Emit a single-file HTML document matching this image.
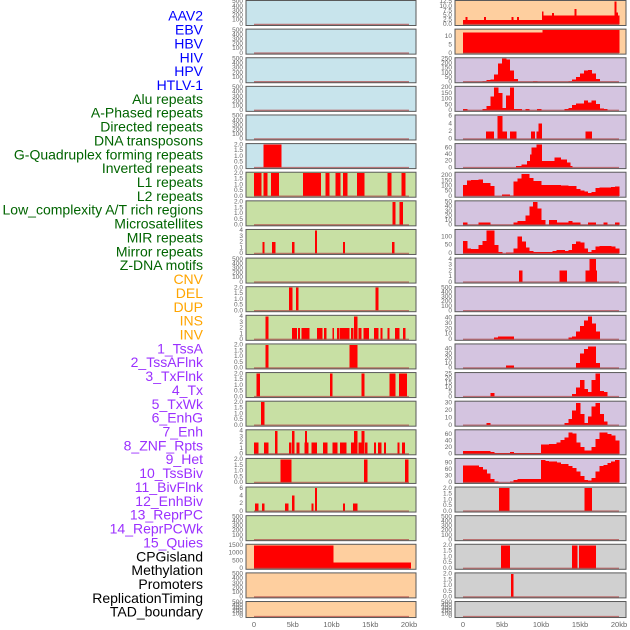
<!DOCTYPE html>
<html><head><meta charset="utf-8">
<style>
html,body{margin:0;padding:0;background:#fff;width:630px;height:630px;overflow:hidden}
svg{display:block}
.lbl{font-family:"Liberation Sans",sans-serif;font-size:14px}
.tk{font-family:"Liberation Sans",sans-serif;font-size:6.5px;fill:#666}
.xt{font-family:"Liberation Sans",sans-serif;font-size:7.5px;fill:#666}
</style></head>
<body>
<svg id="chart" width="630" height="630" viewBox="0 0 630 630"></svg>
<script>
// ---- labels ----
const trackLabels = ["AAV2","EBV","HBV","HIV","HPV","HTLV-1","Alu repeats","A-Phased repeats","Directed repeats","DNA transposons","G-Quadruplex forming repeats","Inverted repeats","L1 repeats","L2 repeats","Low_complexity A/T rich regions","Microsatellites","MIR repeats","Mirror repeats","Z-DNA motifs","CNV","DEL","DUP","INS","INV","1_TssA","2_TssAFlnk","3_TxFlnk","4_Tx","5_TxWk","6_EnhG","7_Enh","8_ZNF_Rpts","9_Het","10_TssBiv","11_BivFlnk","12_EnhBiv","13_ReprPC","14_ReprPCWk","15_Quies","CPGisland","Methylation","Promoters","ReplicationTiming","TAD_boundary"];
const labelColors = ["#0000ff","#0000ff","#0000ff","#0000ff","#0000ff","#0000ff","#006400","#006400","#006400","#006400","#006400","#006400","#006400","#006400","#006400","#006400","#006400","#006400","#006400","#ffa500","#ffa500","#ffa500","#ffa500","#ffa500","#9b30ff","#9b30ff","#9b30ff","#9b30ff","#9b30ff","#9b30ff","#9b30ff","#9b30ff","#9b30ff","#9b30ff","#9b30ff","#9b30ff","#9b30ff","#9b30ff","#9b30ff","#000","#000","#000","#000","#000"];

// ---- tick sets ----
const T_E = [0,100,200,300,400,500];
const T_2 = [0,0.5,1,1.5,2];
const T_4 = [0,1,2,3,4];
const xTickKb = [0,5,10,15,20];
const xTickLabels = ["0","5kb","10kb","15kb","20kb"];

// ---- middle column data: segments [startKb,endKb,value] ----
const midDNA = [[1.2,3.5,2]];
const midL1 = [[0,0.9,2],[1.2,1.7,2],[2.2,3.2,2],[6.3,8.6,2],[9.2,9.7,2],[10.5,11.1,2],[11.5,12,2],[13.3,14.2,2],[17.2,17.7,2],[19,19.5,2]];
const midL2 = [[17.9,18.2,2],[18.8,19.2,2]];
const midLow = [[1.1,1.3,2],[2.3,2.7,2],[4.9,5.2,2],[7.9,8.1,4],[11.5,11.7,2],[17.8,18.1,2]];
const midMirror = [[4.5,4.9,2],[5.4,5.7,2],[15.7,16,2]];
const midZDNA = [[1.5,1.8,4],[4.9,5.5,2],[5.7,5.9,2],[6.1,6.7,2],[6.8,7.1,2],[8.1,8.8,2],[9,9.3,2],[10.1,10.3,2],[10.7,11,2],[11.1,12.3,2],[12.5,12.8,2],[12.9,13.3,4],[13.5,13.8,2],[14.1,14.8,2],[15.5,16,2],[16.3,16.5,2],[17.2,17.4,2],[18.2,18.7,2],[19.2,19.5,2]];
const midCNV = [[1.5,1.8,2],[12.3,13.3,2]];
const midDEL = [[0.3,0.7,2],[9.8,10.1,2],[13.9,14.2,2],[17.5,18.2,2],[18.7,19.7,2]];
const midDUP = [[0.9,1.3,2]];
const midINS = [[0,0.5,2],[1.3,1.8,2],[2.7,3,4],[4.5,4.8,2],[4.9,5.2,4],[5.5,5.8,2],[6.5,7,2],[6.6,6.8,4],[7.4,8.1,2],[8.9,9.4,2],[10.1,10.7,2],[11.1,11.9,2],[12.5,13.3,2],[12.9,13.3,4],[13.5,13.8,2],[13.9,14.2,4],[14.3,14.6,2],[15.5,15.7,2],[16,16.4,2],[16.8,17,2],[18.5,18.7,2],[19.1,19.4,2]];
const midINV = [[3.4,4.8,2],[14.2,14.6,2],[19.5,19.9,2]];
const midTssA = [[0.1,0.5,2],[1,1.3,2],[4,4.4,2],[4.9,5.2,4],[7.4,7.6,2],[7.9,8.1,6],[11.5,11.7,2],[12.8,13.3,2]];
const midCpg = [[0,10.2,1500],[10.2,20.2,380]];

const midSegs = [[],[],[],[],[],midDNA,midL1,midL2,midLow,[],midMirror,midZDNA,midCNV,midDEL,midDUP,midINS,midINV,midTssA,[],midCpg,[],[]];
const midTicks = [T_E,T_E,T_E,T_E,T_E,T_2,T_2,T_2,T_4,T_E,T_2,T_4,T_2,T_2,T_2,T_4,T_2,[0,2,4,6],T_E,[0,500,1000,1500],T_E,T_E];
const midMax = [500,500,500,500,500,2,2,2,4,500,2,4,2,2,2,4,2,6,500,1500,500,500];
const midColors = ["#c8e4ec","#c8e4ec","#c8e4ec","#c8e4ec","#c8e4ec","#c8e4ec","#c8e0a4","#c8e0a4","#c8e0a4","#c8e0a4","#c8e0a4","#c8e0a4","#c8e0a4","#c8e0a4","#c8e0a4","#c8e0a4","#c8e0a4","#c8e0a4","#c8e0a4","#fecf9f","#fecf9f","#fecf9f"];
const midTickFmt = [0,0,0,0,0,1,1,1,0,0,1,0,1,1,1,0,1,0,0,0,0,0];

// ---- right column data ----
const rAAV2 = [[0,0.3,2.5],[0.3,0.5,4],[0.5,2.7,2.5],[2.7,2.9,4],[2.9,6.2,2.5],[6.2,6.4,4],[6.4,6.9,2.5],[6.9,7.1,4],[7.1,10.1,2.5],[10.1,10.3,7],[10.3,11.4,4.8],[11.4,11.6,6.2],[11.6,14.3,4.8],[14.3,14.5,8.5],[14.5,19.4,4.8],[19.4,19.6,12.5],[19.6,19.8,6.5],[19.8,20,5]];
const rEBV = [[0,10.2,12.2],[10.2,20,13.7]];
// binned values (0.5 kb bins, 40 bins)
const rHIV = [0,0,0,0,0,10,20,25,80,200,250,240,120,30,0,0,0,0,10,0,0,0,0,0,0,0,0,10,25,50,90,120,130,90,30,5,0,0,0,0];
const rHPV = [10,0,0,0,0,10,40,120,200,150,20,130,200,10,10,0,10,0,0,10,0,0,0,0,0,0,10,20,45,60,60,85,70,85,55,15,10,0,0,0];
const rAlu = [[2.95,3.9,2],[4.4,5,6],[5,5.6,2],[6,6.8,2],[8.7,9.2,2],[9.4,9.7,2],[9.7,10.1,4],[15.7,16.5,2]];
const rDirected = [[6.8,7.5,5],[7.5,8.2,10],[8.2,8.6,20],[8.6,8.8,40],[8.8,9.4,60],[9.4,10.1,69],[10.1,11.7,20],[11.7,12.5,30],[12.5,13.3,25],[13.3,13.7,15],[13.7,14,5]];
const rInverted = [110,150,155,155,160,125,125,100,0,0,15,15,5,140,170,215,215,175,145,145,110,110,110,110,110,105,105,100,100,70,55,45,30,40,80,85,85,85,90,95];
const rL2 = [5,0,0,0,5,5,5,0,0,0,0,0,0,5,8,8,20,40,50,35,10,0,10,10,5,5,5,8,5,5,0,0,5,5,0,0,5,0,0,5];
const rLowCx = [75,30,25,25,50,75,135,135,50,10,0,5,5,30,100,70,35,15,10,10,10,10,10,15,20,20,15,20,55,70,65,30,10,20,40,45,45,45,40,30];
const rMicro = [[7.2,7.6,2],[12.4,13.3,2],[15.7,16.2,2],[16.2,17,4],[17,17.1,2]];
const rMirror = [0,0,0,0,0,0,0,0,3,5,5,5,5,0,0,0,0,0,0,0,0,0,0,0,0,0,0,3,5,15,25,35,43,30,15,0,0,0,0,0];
const rZDNA = [0,0,0,0,0,0,0,0,0,0,0,5,5,0,0,0,0,0,0,0,0,0,0,0,0,0,0,0,0,10,30,40,45,45,10,0,0,0,0,0];
const rCNV = [0,0,0,0,0,0,0,4,0,0,0,0,0,0,0,0,0,0,0,0,0,0,0,0,0,0,0,0,3,10,18,8,5,18,25,6,5,0,0,0];
const rDEL = [0,0,0,0,0,0,3,0,0,0,0,0,0,0,0,0,0,0,0,0,0,0,0,0,0,0,3,8,20,30,15,3,12,25,30,15,5,0,0,0];
const rINS = [8,8,8,8,8,8,8,5,2,2,2,2,5,2,2,2,2,2,2,2,28,28,30,30,35,42,50,65,62,35,20,10,10,20,45,65,65,60,55,40];
const rINV = [78,78,78,78,70,60,40,15,5,0,0,0,5,10,15,15,15,15,15,15,102,98,95,95,90,85,85,75,65,50,30,10,8,20,50,75,80,88,95,102];
const rTssA = [[4.6,5.9,2],[15.6,16.5,2]];
const rCpg = [[4.9,6,2],[14,14.6,2],[14.9,17,2]];
const rMeth = [[6.15,6.45,2]];

const rightData = [rAAV2,rEBV,rHIV,rHPV,rAlu,rDirected,rInverted,rL2,rLowCx,rMicro,[],rMirror,rZDNA,rCNV,rDEL,rINS,rINV,rTssA,[],rCpg,rMeth,[]];
const rightTicks = [[0,2.5,5,7.5,10,12.5],[0,5,10],[0,50,100,150,200,250],[0,50,100,150,200],[0,2,4,6],[0,20,40,60],[0,50,100,150,200],[0,10,20,30,40,50],[0,50,100],T_4,T_E,[0,10,20,30,40],[0,10,20,30,40],[0,5,10,15,20,25],[0,10,20,30],[0,20,40,60],[0,30,60,90],T_2,T_E,T_2,T_2,T_E];
const rightMax = [12.5,13.7,250,200,6,69,221,50,136,4,500,43,48,25,31,70,105,2,500,2,2,500];
const rightTickFmt = [1,0,0,0,0,0,0,0,0,0,0,0,0,0,0,0,0,1,0,1,1,0];
const rightColors = ["#fecf9f","#fecf9f","#d4c4e0","#d4c4e0","#d4c4e0","#d4c4e0","#d4c4e0","#d4c4e0","#d4c4e0","#d4c4e0","#d4c4e0","#d4c4e0","#d4c4e0","#d4c4e0","#d4c4e0","#d4c4e0","#d4c4e0","#d0d0d0","#d0d0d0","#d0d0d0","#d0d0d0","#d0d0d0"];

// ---- layout ----
const NS = "http://www.w3.org/2000/svg";
const svg = document.getElementById("chart");
const MID = {left:246, right:416, x0:254, x20:409};
const RGT = {left:455, right:626, x0:463, x20:619};
function xScale(col, kb){ return col.x0 + (col.x20 - col.x0) * kb / 20; }
function panelTop(i){ return 0.5 + i * 28.62; }
function panelH(i){ return i === 21 ? 16 : 25; }
function yScale(i, v, max){ const t = panelTop(i), h = panelH(i); return t + h - 1 - (v / max) * (h - 2); }
function mk(tag, attrs){ const e = document.createElementNS(NS, tag); for (const k in attrs) e.setAttribute(k, attrs[k]); return e; }

// labels
const step = (611 - 15) / (trackLabels.length - 1);
trackLabels.forEach((t, k) => {
  const e = mk("text", {x:203, y:17 + k*step, "text-anchor":"end", "dominant-baseline":"middle", fill:labelColors[k], class:"lbl"});
  
  
  e.textContent = t;
  svg.appendChild(e);
});

function fmt(v, dec){ return dec ? v.toFixed(1) : String(v); }

function drawPanel(col, i, color, ticks, max, dec, data, isBins, side){
  const t = panelTop(i), h = panelH(i);
  const g = mk("g", {});
  
  
  svg.appendChild(g);
  g.appendChild(mk("rect", {x:col.left, y:t, width:col.right-col.left, height:h, fill:color}));
  const base = yScale(i, 0, max);
  let segs = data;
  if (isBins) segs = data.map((v, k) => [k*0.5, k*0.5+0.5, v]);
  segs.forEach(s => {
    if (!s[2]) return;
    const x1 = xScale(col, s[0]), x2 = xScale(col, s[1]);
    const y = yScale(i, Math.min(s[2], max), max);
    const r = mk("rect", {x:x1, y:y, width:Math.max(1.2, x2-x1+0.4), height:base-y, fill:"#ff0000", "shape-rendering":"crispEdges"});
    
    
    g.appendChild(r);
  });
  g.appendChild(mk("line", {x1:xScale(col,0), x2:xScale(col,20), y1:base, y2:base, stroke:"#b04848", "stroke-width":1.4, opacity:0.7}));
  g.appendChild(mk("rect", {x:col.left, y:t, width:col.right-col.left, height:h, fill:"none", stroke:"#5a5a5a", "stroke-width":1}));
  ticks.forEach(v => {
    const tx = mk("text", {x:col.left-3, y:yScale(i, v, max), "text-anchor":"end", "dominant-baseline":"middle", class:"tk"});
    
    
    tx.textContent = fmt(v, dec);
    g.appendChild(tx);
  });
}

for (let i = 0; i < 22; i++){
  drawPanel(MID, i, midColors[i], midTicks[i], midMax[i], midTickFmt[i], midSegs[i], false, 'mid');
  const d = rightData[i];
  const bins = d.length === 40 && typeof d[0] === "number";
  drawPanel(RGT, i, rightColors[i], rightTicks[i], rightMax[i], rightTickFmt[i], d, bins, 'right');
}

[MID, RGT].forEach((col) => {
  xTickKb.forEach((kb, k) => {
    const e = mk("text", {x:xScale(col, kb), y:627, "text-anchor":"middle", class:"xt"});
    
    
    e.textContent = xTickLabels[k];
    svg.appendChild(e);
  });
});
</script>
</body></html>
